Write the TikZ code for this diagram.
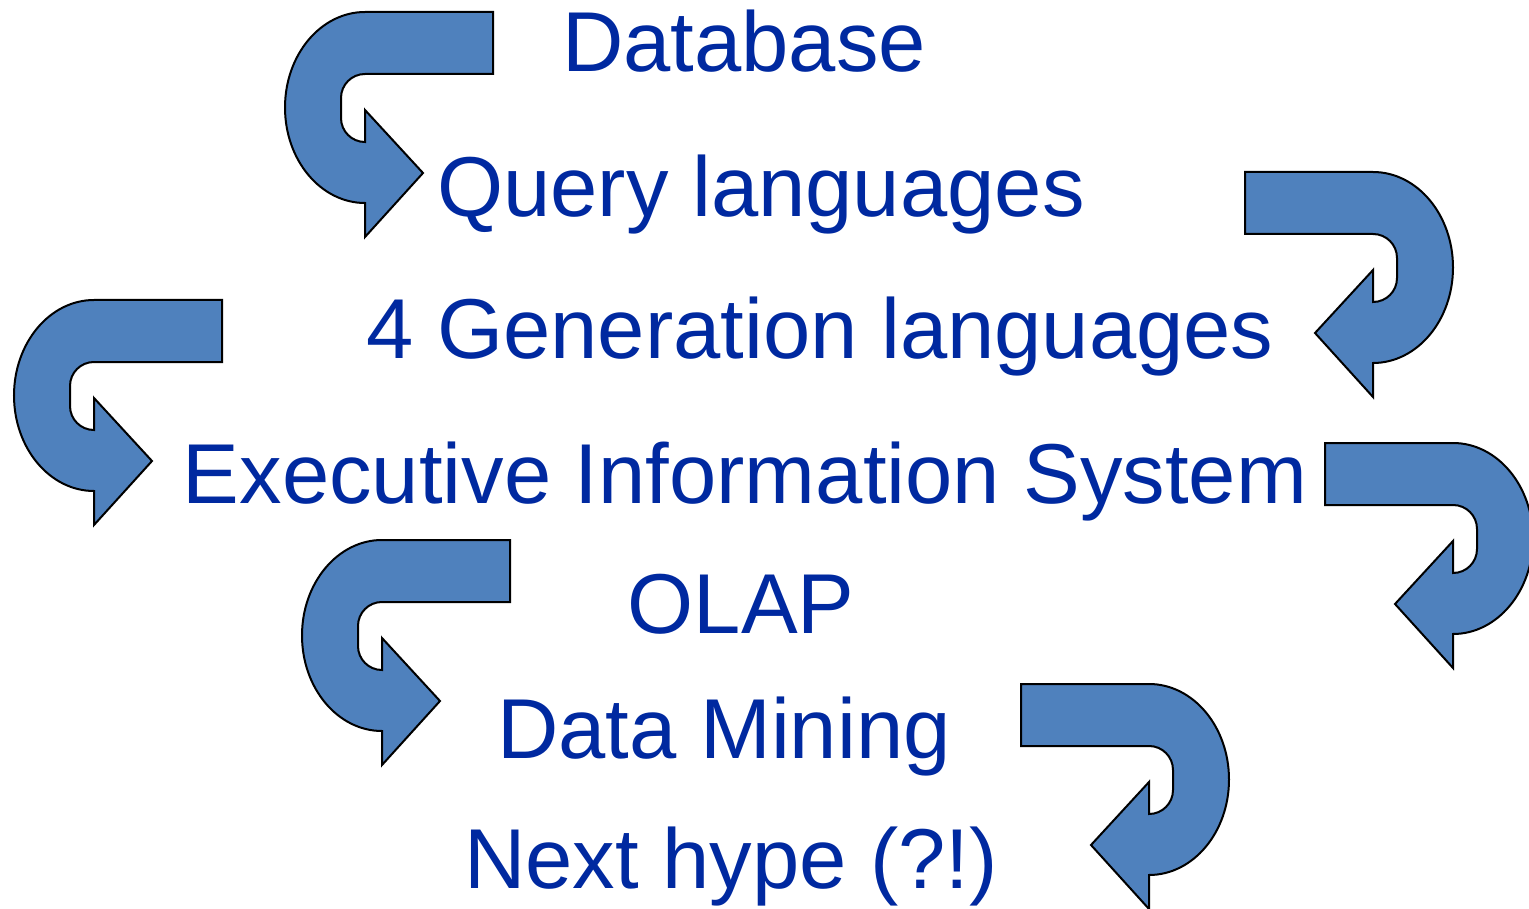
\documentclass[tikz,border=0pt]{standalone}
\usepackage{fontspec}
\setmainfont{Liberation Sans}
\definecolor{txtblue}{RGB}{0,41,160}
\definecolor{arrowfill}{RGB}{79,129,189}
\tikzset{
  label text/.style={text=txtblue, inner sep=0pt, anchor=base,
    font=\fontsize{85}{100}\selectfont},
  turn arrow/.style={fill=arrowfill, draw=black, line width=2pt, line join=miter},
  % U-turn arrow: band enters from the right at (0,0), turns left and down, head points right
  uturn/.pic={
    \path[turn arrow]
      (0,0) -- (0,62) -- (-128,62)
      .. controls (-141.3,62) and (-152,72.7) .. (-152,86)
      -- (-152,106)
      .. controls (-152,119.3) and (-141.3,130) .. (-128,130)
      -- (-128,98) -- (-70,161) -- (-128,225) -- (-128,191)
      .. controls (-172.2,191) and (-208,148.2) .. (-208,95.5)
      .. controls (-208,42.8) and (-172.2,0) .. (-128,0)
      -- cycle;
  }
}
\begin{document}
\begin{tikzpicture}[x=1pt, y=-1pt]
  \useasboundingbox (0,0) rectangle (1529,909);
  \clip (0,0) rectangle (1529,909);

  % turning arrows between the stages
  \pic at (493,12) {uturn};
  \pic[xscale=-1] at (1245,172) {uturn};
  \pic at (222,300) {uturn};
  \pic[xscale=-1] at (1325,443) {uturn};
  \pic at (510,540) {uturn};
  \pic[xscale=-1] at (1021,684) {uturn};

  % stages
  \node[label text] (db)   at (744,72)  {Database};
  \node[label text] (ql)   at (761,217) {Query languages};
  \node[label text] (gl)   at (820,359) {4 Generation languages};
  \node[label text] (eis)  at (745,503) {Executive Information System};
  \node[label text] (olap) at (741,633) {OLAP};
  \node[label text] (dm)   at (724,758) {Data Mining};
  \node[label text] (next) at (731,888) {Next hype (?!)};
\end{tikzpicture}
\end{document}
